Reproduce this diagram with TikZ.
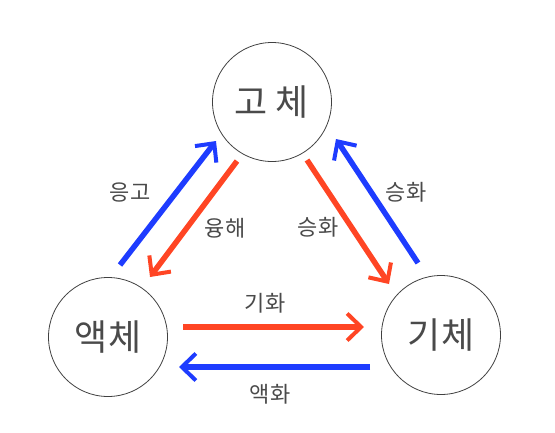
\documentclass[tikz,border=0pt]{standalone}
\usepackage{fontspec}
\newfontfamily\kr{Noto Sans CJK KR}
\usetikzlibrary{arrows.meta}
\definecolor{hred}{HTML}{FF4524}
\definecolor{hblue}{HTML}{1E3CFF}
\definecolor{txt}{HTML}{4A4A4A}
\tikzset{
  phase/.style={circle,draw=black!75,line width=0.8pt,minimum size=119pt,inner sep=0pt,font=\kr\fontsize{36}{36}\selectfont,text=txt},
  conv/.style={line width=5.5pt,-{Straight Barb[length=14pt,width=27pt,line width=4pt]}},
  redarr/.style={conv,draw=hred},
  bluearr/.style={conv,draw=hblue},
  lab/.style={font=\kr\fontsize{22}{22}\selectfont,text=txt},
}
\begin{document}
\begin{tikzpicture}[x=1pt,y=-1pt]
\useasboundingbox (0,0) rectangle (555,432);
\node[phase] (solid) at (272,102) {고 체};
\node[phase] (liquid) at (108,337) {액체};
\node[phase] (gas) at (441,335) {기체};
% endpoints
\coordinate (fs1) at (120,265); \coordinate (fe1) at (216,141);
\coordinate (ms1) at (237,161); \coordinate (me1) at (150,277);
\coordinate (ss1) at (307,160); \coordinate (se1) at (389,284);
\coordinate (ds1) at (418,263); \coordinate (de1) at (336,139);
\coordinate (vs1) at (183,327); \coordinate (ve1) at (364,327);
\coordinate (cs1) at (370,367); \coordinate (ce1) at (179,367);
\draw[bluearr] (fs1) -- (fe1);
\draw[redarr] (ms1) -- (me1);
\draw[redarr] (ss1) -- (se1);
\draw[bluearr] (ds1) -- (de1);
\draw[redarr] (vs1) -- (ve1);
\draw[bluearr] (cs1) -- (ce1);
\node[lab] (l1) at (130,193) {응고};
\node[lab] (l2) at (225,228) {융해};
\node[lab] (l3) at (318,227) {승화};
\node[lab] (l4) at (406,192) {승화};
\node[lab] (l5) at (265,303) {기화};
\node[lab] (l6) at (270,394) {액화};
\end{tikzpicture}
\end{document}
